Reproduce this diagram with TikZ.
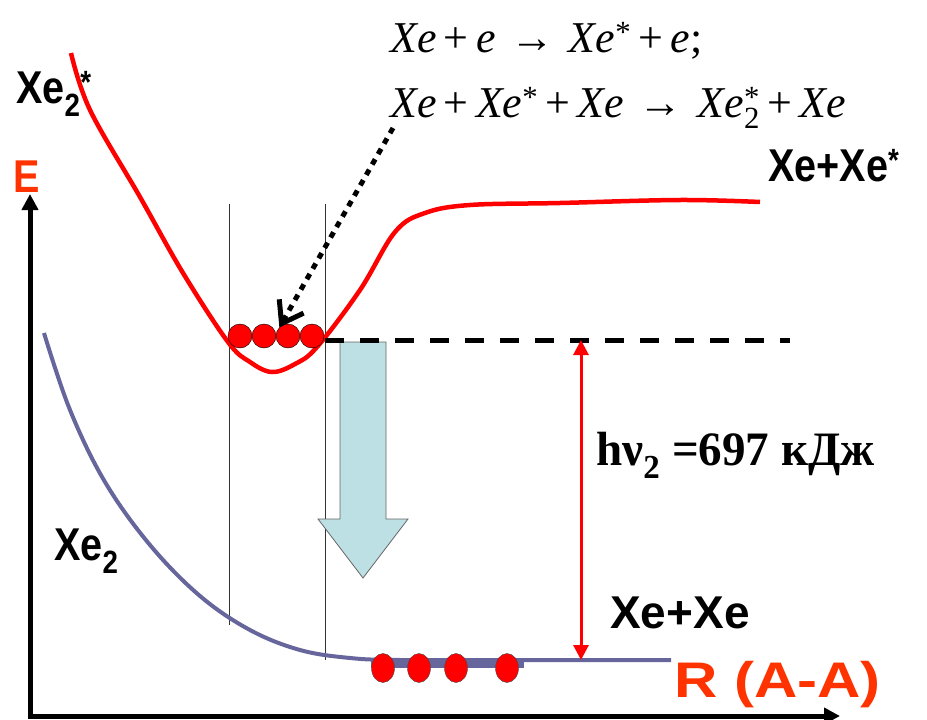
\documentclass[tikz,border=0pt]{standalone}
\usepackage{fontspec}
\usepackage{xcolor}
\usetikzlibrary{arrows.meta,positioning,shapes.geometric,calc}

\newfontfamily\eqfont{Liberation Serif}
\newfontfamily\lblfont{Liberation Sans}[FakeStretch=0.86]
\newfontfamily\widefont{Liberation Sans}
\newfontfamily\axfont{Liberation Sans}[FakeStretch=1.2]
\newfontfamily\hvfont{Liberation Serif}[FakeStretch=0.98]

\definecolor{axred}{HTML}{FF3300}
\definecolor{slate}{HTML}{66669C}
\definecolor{photon}{HTML}{BCE0E4}

\begin{document}
\begin{tikzpicture}[
    x=1pt, y=-1pt,
    lbl/.style={anchor=base west, inner sep=0pt, font=\lblfont\bfseries\fontsize{46}{50}\selectfont},
    widelbl/.style={anchor=base west, inner sep=0pt, font=\widefont\bfseries\fontsize{46}{50}\selectfont},
    eqn/.style={anchor=base west, inner sep=0pt, font=\eqfont\fontsize{44}{48}\selectfont},
    atom/.style={circle, draw=black, thin, fill=red, minimum size=24pt, inner sep=0pt},
    atomlow/.style={ellipse, draw=black!70, thin, fill=red, minimum width=23pt, minimum height=29pt, inner sep=0pt},
    axis/.style={line width=5pt, black},
    guide/.style={black!80, line width=0.8pt}
]
    \useasboundingbox (0,0) rectangle (927,720);

    % Axes
    \coordinate (origin) at (30,716);
    \coordinate (ytip) at (30,194);
    \coordinate (xtip) at (840,716);
    \draw[axis, {Triangle[length=16pt,width=16pt]}-{Triangle[length=16pt,width=16pt]}] (ytip) -- (origin) -- (xtip);
    \node[lbl, text=axred] (elbl) at (13,192) {E};
    \node[anchor=base west, inner sep=0pt, font=\axfont\bfseries\fontsize{50}{54}\selectfont, text=axred] (rlbl) at (674,697) {R (A-A)};

    % Guide lines at the bound level
    \draw[guide] (229,204) -- (229,625);
    \draw[guide] (325,204) -- (325,660);

    % Excited state curve
    \draw[red, line width=4.5pt, line join=round] plot[smooth, tension=0.6] coordinates {
        (71,53) (90,110) (140,197) (183,273) (228,342) (250,362) (272,372)
        (295,364) (317,347) (360,290) (395,232) (425,213) (470,205)
        (560,203) (680,200) (760,202)};

    % Ground state curve
    \draw[slate, line width=4pt] plot[smooth, tension=0.6] coordinates {
        (44,333) (70,410) (105,482) (150,545) (200,596) (250,630) (300,650)
        (350,658) (400,660) (520,660) (671,660)};
    \draw[slate, line width=7pt] (371,664) -- (524,664);

    % Photon arrow
    \draw[fill=photon, draw=black!60, line width=0.8pt]
        (340,342) -- (386,342) -- (386,519) -- (408,519) -- (363,578)
        -- (318,519) -- (340,519) -- cycle;

    % Bound level
    \draw[black, line width=5pt, dash pattern=on 19pt off 16pt] (325,340) -- (790,340);

    % Atoms
    \foreach \i/\x in {1/240,2/264,3/288,4/312}
        \node[atom] (up\i) at (\x,336) {};
    \foreach \i/\x in {1/383,2/419,3/456,4/507}
        \node[atomlow] (lo\i) at (\x,668) {};

    % Reactions
    \node[eqn] (eq1) at (390,52) {\textit{Xe}\,+\,\textit{e}\,\,→\,\,\textit{Xe}\textsuperscript{*}\,+\,\textit{e};};
    \node[eqn] (eq2) at (390,117) {\textit{Xe}\,+\,\textit{Xe}\textsuperscript{*}\,+\,\textit{Xe}\,\,→\,\,\textit{Xe}\rlap{\textsuperscript{*}}\textsubscript{2}\,+\,\textit{Xe}};
    \coordinate (dotstart) at (393,128);
    \draw[black, line width=5pt, dash pattern=on 6pt off 6pt, -{Straight Barb[length=20pt,width=28pt]}]
        (dotstart) -- (up3.north west);

    % Energy gap
    \coordinate (gaptop) at (581,340);
    \coordinate (gapbot) at (581,660);
    \draw[red, line width=3pt, {Triangle[length=15pt,width=15pt]}-{Triangle[length=15pt,width=15pt]}] (gaptop) -- (gapbot);
    \node[anchor=base west, inner sep=0pt, font=\hvfont\bfseries\fontsize{48}{52}\selectfont] (hv) at (596,465) {hν\textsubscript{2} =697 кДж};

    % State labels
    \node[lbl] (xe2s) at (16,103) {Xe\textsubscript{2}\textsuperscript{*}};
    \node[lbl] (xexes) at (768,181) {Xe+Xe\textsuperscript{*}};
    \node[lbl] (xe2) at (54,560) {Xe\textsubscript{2}};
    \node[widelbl] (xexe) at (610,628) {Xe+Xe};
\end{tikzpicture}
\end{document}
